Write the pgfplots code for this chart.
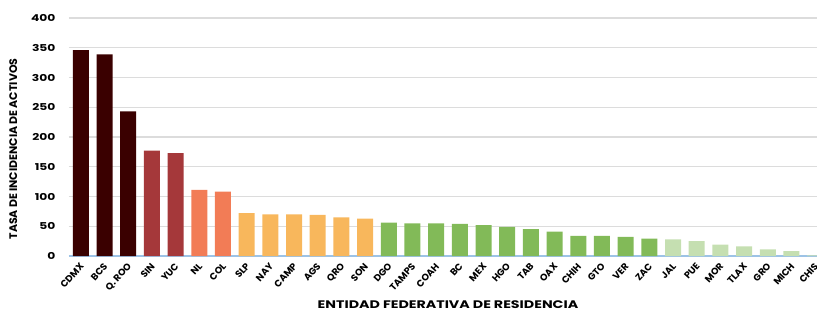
\documentclass[border=0pt]{standalone}
\usepackage{pgfplots}
\pgfplotsset{compat=1.18}
\usepackage{graphicx}
\usepackage{fontspec}
\setmainfont{Poppins}
\usetikzlibrary{calc}
\definecolor{cA}{HTML}{3A0000}
\definecolor{cB}{HTML}{A5383A}
\definecolor{cC}{HTML}{F27C56}
\definecolor{cD}{HTML}{F8B75C}
\definecolor{cE}{HTML}{82BA58}
\definecolor{cF}{HTML}{C5DFB1}
\definecolor{gridc}{HTML}{DCDCDC}
\definecolor{axc}{HTML}{9DC3E6}
\begin{document}
\begin{tikzpicture}
\begin{axis}[
  scale only axis, width=758bp, height=238bp,
  ymin=0, ymax=400, ytick={0,50,...,400},
  xmin=-0.5, xmax=31.5,
  xtick={0,...,31},
  xticklabels={CDMX,BCS,Q. ROO,SIN,YUC,NL,COL,SLP,NAY,CAMP,AGS,QRO,SON,DGO,TAMPS,COAH,BC,MEX,HGO,TAB,OAX,CHIH,GTO,VER,ZAC,JAL,PUE,MOR,TLAX,GRO,MICH,CHIS},
  x tick label style={rotate=48, anchor=north east, font=\bfseries\fontsize{9.5}{10}\selectfont, inner sep=1pt, xshift=-4.5bp, yshift=-2bp},
  yticklabel={\scalebox{1.3}[1]{\pgfmathprintnumber{\tick}}},
  y tick label style={font=\bfseries\fontsize{9.5}{12}\selectfont, xshift=-10bp},
  /pgf/number format/assume math mode=true,
  major tick length=0pt,
  axis x line=bottom, axis y line=left,
  x axis line style={draw=axc, line width=1.2pt, -},
  y axis line style={draw=none},
  ymajorgrids, grid style={draw=gridc, line width=1.2pt},
  ylabel={TASA DE INCIDENCIA DE ACTIVOS},
  ylabel style={font=\bfseries\fontsize{11}{12}\selectfont, yshift=7bp, xshift=-12bp},
  xlabel={\scalebox{1.3}[1]{ENTIDAD FEDERATIVA DE RESIDENCIA}},
  xlabel style={font=\bfseries\fontsize{11}{12}\selectfont, yshift=-3bp},
  ybar, bar width=16bp,
  every axis plot/.append style={bar shift=0pt, draw=none},
  clip=false,
]
\addplot[fill=cA] coordinates {(0,346) (1,339) (2,243)};
\addplot[fill=cB] coordinates {(3,177) (4,173)};
\addplot[fill=cC] coordinates {(5,111) (6,108)};
\addplot[fill=cD] coordinates {(7,72) (8,70) (9,70) (10,69) (11,65) (12,63)};
\addplot[fill=cE] coordinates {(13,56) (14,55) (15,55) (16,54) (17,52) (18,49) (19,45) (20,41) (21,34) (22,34) (23,32) (24,29)};
\addplot[fill=cF] coordinates {(25,28) (26,25) (27,19) (28,16) (29,11) (30,8) (31,1)};
\end{axis}
\pgfresetboundingbox
\path[use as bounding box] ($(current axis.south west)+(-69bp,-54bp)$) rectangle ($(current axis.south west)+(748bp,256bp)$);
\end{tikzpicture}
\end{document}
